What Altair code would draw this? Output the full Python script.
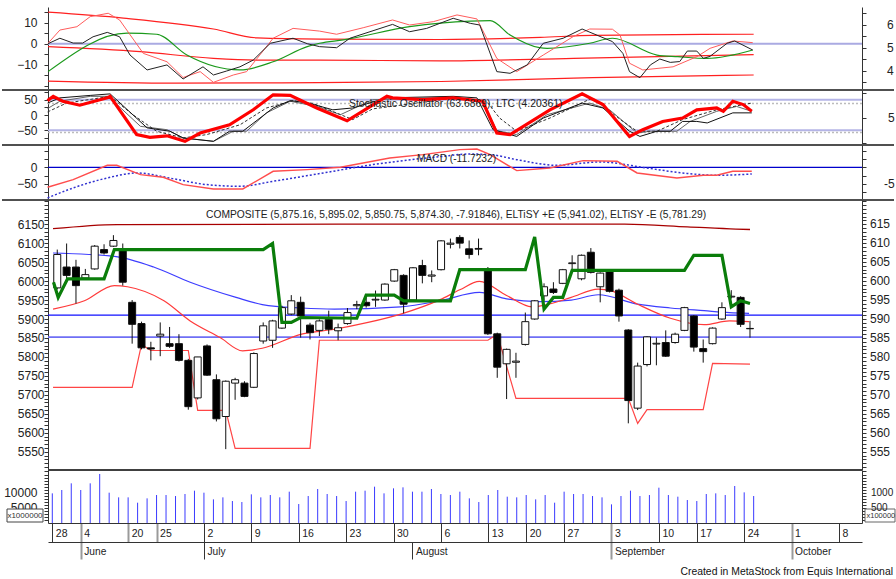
import altair as alt
import pandas as pd

FONT = "Liberation Sans, Arial, sans-serif"

W = 814
H1, H2, H3, H4, H5 = 83, 55, 55, 270, 53
X_DOMAIN = [-0.454, 85.43]

# ---------------- x axis (trading-day index) ----------------
day_tick_idx = [0, 3, 8, 11, 16, 21, 26, 31, 36, 41, 46, 50, 54, 59, 64, 68, 73, 78, 83]
day_tick_lbl = ["28", "4", "20", "25", "2", "9", "16", "23", "30", "6", "13", "20", "27",
                "3", "10", "17", "24", "1", "8"]
grey_tick_idx = [3, 8, 11, 59, 78]
month_idx = [3, 16, 38, 59, 78]
month_lbl = ["June", "July", "August", "September", "October"]

# ---------------- price candles ----------------
c_open = [5982, 6037, 6037, 6008, 6032, 6083, 6092, 6081, 5944, 5888, 5824, 5855, 5835, 5835, 5791,
          5692, 5829, 5740, 5643, 5731, 5731, 5720, 5842, 5844, 5876, 5913, 5944, 5884, 5870, 5899,
          5869, 5888, 5935, 5944, 5950, 5950, 6000, 6015, 5950, 6041, 6013, 6030, 6097, 6115, 6085,
          6084, 6028, 5861, 5782, 5786, 5833, 5900, 5961, 5979, 5994, 6046, 6006, 6076, 5985, 6028,
          5976, 5871, 5665, 5780, 5834, 5838, 5838, 5870, 5908, 5822, 5835, 5900, 5958, 5957, 5875.16]
c_high = [6083, 6099, 6056, 6032, 6095, 6097, 6121, 6099, 5950, 5893, 5840, 5891, 5879, 5860, 5795,
          5800, 5833, 5754, 5738, 5745, 5736, 5812, 5891, 5898, 5935, 5963, 5959, 5890, 5899, 5922,
          5888, 5929, 5948, 5957, 5975, 5994, 6032, 6018, 6037, 6056, 6028, 6108, 6112, 6121, 6107,
          6112, 6037, 5864, 5822, 5811, 5917, 5950, 5994, 5997, 6032, 6068, 6070, 6087, 6023, 6030,
          5980, 5873, 5785, 5855, 5851, 5870, 5864, 5932, 5910, 5846, 5878, 5944, 5976, 5960, 5895.02]
c_low = [5978, 5997, 5941, 6005, 6030, 6070, 6090, 5988, 5835, 5820, 5791, 5802, 5824, 5788, 5661,
         5688, 5750, 5630, 5557, 5687, 5694, 5718, 5835, 5824, 5874, 5910, 5851, 5846, 5855, 5860,
         5844, 5885, 5926, 5930, 5932, 5948, 5998, 5915, 5948, 5994, 5997, 6028, 6086, 6086, 6059,
         6068, 5858, 5745, 5689, 5745, 5830, 5898, 5948, 5966, 5992, 6028, 6002, 6020, 5944, 5970,
         5893, 5625, 5660, 5775, 5778, 5800, 5835, 5868, 5814, 5785, 5833, 5898, 5954, 5879, 5850.75]
c_close = [6070, 6015, 5988, 6017, 6092, 6074, 6107, 5997, 5886, 5824, 5821, 5860, 5828, 5791, 5669,
           5800, 5752, 5637, 5736, 5740, 5696, 5809, 5882, 5895, 5930, 5948, 5908, 5864, 5895, 5873,
           5877, 5917, 5938, 5935, 5952, 5992, 6030, 5939, 6035, 6015, 6016, 6106, 6100, 6100, 6070,
           6086, 5861, 5773, 5820, 5789, 5893, 5948, 5985, 5970, 6030, 6048, 6068, 6023, 6021, 5973,
           5908, 5685, 5776, 5853, 5836, 5802, 5860, 5930, 5826, 5814, 5876, 5930, 5960, 5886, 5874.30]

# ---------------- volume (x1,000,000) ----------------
volume = [9785, 10886, 13088, 10886, 13088, 16171, 10005, 8464, 8464, 6702, 8134, 9234, 9234, 8904,
          9565, 10666, 10005, 7803, 8464, 7253, 6922, 9455, 8464, 9234, 8464, 10336, 6262, 8904, 11216,
          9565, 8904, 7253, 10336, 10666, 11987, 9785, 11437, 11767, 10336, 10336, 11216, 9565, 9234,
          10336, 8134, 6922, 9234, 10886, 8684, 8464, 9234, 7803, 9234, 6702, 10336, 9565, 9565, 8904,
          8464, 6152, 8904, 10666, 8904, 9234, 11657, 9234, 8684, 7583, 7253, 9565, 9785, 9234, 12207,
          10115, 8904]

# ---------------- panel 1 oscillators ----------------
p1_bandA_i = [-0.45, 7.5, 17, 21.6, 28.3, 40.9, 51.5, 57, 74]
p1_bandA_v = [15, 12.2, 7, 2.8, 2.2, 2.0, 3.0, 4.0, 4.5]
p1_bandB_i = [-0.45, 9.3, 17, 21.6, 28.3, 40.9, 55, 74]
p1_bandB_v = [-1.4, -3.8, -7.0, -7.8, -7.8, -8.2, -7.0, -5.2]
p1_bandD_i = [-0.45, 13, 28, 41, 57, 74]
p1_bandD_v = [-17.8, -18.8, -18.5, -18.0, -16.2, -14.9]
p1_pink_i = [-0.45, 0.8, 2.6, 4.0, 5.9, 7.1, 9.6, 12.1, 13.8, 15.6, 17.0, 19.1, 20.5, 23.3, 25.4,
             28.2, 30.0, 32.8, 35.9, 37.7, 40.2, 42.7, 44.8, 46.9, 49.0, 51.8, 55.0, 56.7, 59.1, 59.9,
             60.9, 62.3, 65.5, 68.0, 69.4, 71.8, 73.9]
p1_pink_v = [0.2, 6.5, 8.1, 12.9, 14.5, 11.3, -4.6, -8.6, -16.1, -13.3, -18.4, -14.9, -13.3, 2.6, 7.3,
             6.0, 4.5, 7.6, 11.3, 8.9, 10.5, 13.7, 11.8, -7.0, -13.3, -5.4, 3.5, 7.0, 6.9, 4.1,
             -9.3, -12.5, -11.0, -6.2, -2.2, 1.3, 0.5]
p1_black_i = [-0.45, 0.8, 2.2, 3.2, 4.3, 5.8, 7.1, 8.2, 10.0, 12.1, 13.8, 15.9, 17.0, 18.4, 19.8,
              21.2, 23.0, 25.4, 26.9, 28.2, 30.0, 31.4, 35.9, 37.7, 39.5, 42.3, 44.1, 45.1, 46.9, 48.3,
              50.1, 51.8, 53.9, 55.9, 59.1, 60.2, 60.9, 62.0, 63.1, 64.1, 65.2, 66.2, 67.0, 68.0, 68.7,
              69.4, 71.2, 72.0, 73.9]
p1_black_v = [0, 2.6, 0.3, 0.3, 3.3, 5.4, 3.3, -5.4, -12.5, -10.1, -16.8, -11.0, -14.9, -13.0, -11.0,
              -7.8, 0.2, 2.6, 0, -1.4, -1.9, 2.6, 9.2, 5.7, 7.3, 12.1, 9.7, 8.9, -13.3, -14.1,
              -10.1, 0.2, 2.6, 7.0, 1.0, -4.6, -13.3, -16.2, -10.1, -7.3, -8.9, -8.5, -3.5, -3.5, -7.0,
              -6.0, 0.2, 1.3, -3.0]
p1_green_i = [-0.45, 7.9, 11.0, 14.2, 19.8, 23.3, 26.9, 28.2, 30.7, 37.7, 44.1, 46.2, 48.3, 51.4,
              52.2, 56.7, 59.1, 63.8, 66.0, 69.1, 73.9]
p1_green_v = [-13.3, 5.0, 4.5, -5.4, -12.5, -8.6, -1.4, 0.2, 1.8, 8.1, 10.8, 11.0, 4.1, -1.9,
              -2.2, 0.2, 2.6, -5.4, -6.2, -7.0, -3.0]
p1_levels = [0]

# ---------------- panel 2 stochastic ----------------
p2_red_i = [-0.5, 0.1, 1.1, 2.9, 5.8, 6.1, 8.9, 10.3, 12.1, 14.0, 15.6, 18.7, 21.2, 23.3, 25.1, 27.9,
            31.1, 35.3, 35.9, 39.1, 42.3, 45.4, 46.9, 48.3, 52.5, 55.9, 58.1, 60.9, 62.3, 64.4, 66.5,
            68.0, 70.1, 70.8, 71.8, 72.9, 73.8]
p2_red_v = [47, 61, 45, 32, 56, 61, -64, -73, -68, -86, -59, -32, 17, 66, 64, 23, -19, 61, 56, 50,
            56, 45, -59, -64, 17, 69, 34, -70, -48, -21, -10, 17, 23, 12, 45, 34, 12]
p2_black_i = [-0.5, 0.8, 4.0, 6.1, 10.0, 12.4, 13.8, 17.0, 18.7, 20.1, 23.3, 25.1, 26.9, 29.6, 31.7,
              35.3, 42.3, 44.8, 46.5, 49.0, 51.8, 55.9, 58.1, 60.9, 62.0, 63.8, 65.2, 66.5, 68.0, 69.1,
              71.8, 73.8]
p2_black_v = [39, 56, 64, 69, -42, -53, -75, -86, -53, -53, 23, 47, 40, 17, 23, 56, 61, 56, -48, -70,
              -10, 39, 23, -53, -70, -53, -53, -21, -21, -26, 7, 7]
p2_grey_i = [-0.5, 0.8, 4.0, 5.9, 9.3, 12.1, 13.8, 17.0, 19.1, 20.5, 22.6, 25.1, 27.9, 30.4, 33.8,
             42.3, 45.4, 46.9, 49.0, 52.2, 56.7, 58.8, 61.7, 63.1, 65.9, 67.3, 70.1, 72.2, 73.8]
p2_grey_v = [21, 45, 61, 61, -37, -48, -75, -86, -53, -53, 7, 45, 28, 1, 50, 58, 45, -51, -64, 1,
             39, 17, -59, -53, -53, -21, 12, 28, 12]
p2_dash_i = [-0.5, 1.5, 6.1, 8.5, 11.0, 13.8, 16.3, 19.8, 22.6, 25.4, 27.5, 31.7, 33.8, 42.3, 45.8,
             47.2, 49.0, 52.5, 57.0, 60.2, 61.7, 63.8, 66.5, 70.1, 72.9, 73.8]
p2_dash_v = [10, 39, 61, 1, -53, -75, -64, -32, 23, 47, 38, -15, 20, 55, 45, -10, -53, -10, 56, -21,
             -53, -53, -15, 17, 34, 39]
p2_solid_levels = [50, -50]
p2_dotted_levels = [38, -57]

# ---------------- panel 3 MACD ----------------
p3_macd_i = [-0.5, 2.2, 5.8, 6.8, 9.3, 11.7, 13.8, 17.0, 20.1, 23.3, 26.9, 30.4, 35.6, 39.1, 43.0,
             44.8, 46.2, 49.0, 52.5, 56.0, 59.6, 61.7, 65.9, 68.7, 70.1, 71.8, 73.8]
p3_macd_v = [-60, -37, 6, 6, -22, -30, -52, -65, -65, -12, -7, 0, 28, 38, 53, 55, 38, -10, -2, 20,
             18, -17, -32, -24, -24, -12, -12]
p3_sig_i = [-0.5, 2.2, 5.8, 8.9, 12.7, 16.3, 19.8, 23.3, 28.6, 33.8, 40.9, 44.0, 46.2, 49.0, 53.2,
            57.8, 62.7, 66.5, 70.1, 73.8]
p3_sig_v = [-92, -62, -32, -17, -34, -52, -57, -42, -17, 8, 32, 40, 38, 23, 6, 16, -2, -17, -24, -20]
p3_levels = [0]

# ---------------- panel 4 price overlays ----------------
p4_top_i = [-0.45, 6.4, 30, 60.6, 67.3, 72.5, 74]
p4_top_v = [6138, 6149, 6150, 6150, 6143, 6137, 6136]
p4_green_i = [-0.4, 0.1, 1.1, 5, 6.1, 22, 23, 24, 25, 26, 32, 33, 36, 37, 42, 43, 50, 51, 52, 53, 54,
              55, 67, 68, 71, 72, 73, 74]
p4_green_v = [5997, 5957, 6006, 6006, 6083, 6083, 6099, 5891, 5891, 5904, 5902, 5963, 5963, 5948,
              5948, 6030, 6030, 6116, 5926, 5957, 5957, 6028, 6028, 6068, 6068, 5932, 5948, 5941.02]
p4_step_i = [-0.45, 8, 9, 10, 14, 15, 18, 19, 27, 28, 46, 47, 49, 61, 62, 63, 69, 70, 74]
p4_step_v = [5720, 5720, 5833, 5817, 5817, 5659, 5659, 5559, 5559, 5844, 5844, 5860, 5691, 5691,
             5625, 5661, 5661, 5783, 5781.29]
p4_rma_i = [-0.45, 2.9, 6.1, 7.5, 11.4, 14.2, 17.4, 19.8, 21.9, 26.1, 29.6, 33.2, 36.7, 40.9, 43.0,
            45.1, 48.0, 50.7, 52.5, 54.9, 57.8, 59.1, 62.0, 65.5, 69.1, 71.8, 73.9]
p4_rma_v = [5926, 5948, 5988, 5985, 5948, 5895, 5851, 5816, 5823, 5860, 5873, 5891, 5913, 5951, 5977,
            5999, 5962, 5932, 5939, 5957, 5979, 5975, 5939, 5902, 5885, 5895, 5893]
p4_bma_i = [-0.45, 6.1, 10.3, 14.2, 19.1, 21.9, 26.1, 29.6, 36.7, 40.9, 45.1, 48.0, 51.5, 54.9, 57.8,
            62.0, 65.5, 69.1, 71.8, 73.9]
p4_bma_v = [6074, 6065, 6037, 5997, 5957, 5938, 5929, 5926, 5932, 5948, 5970, 5953, 5946, 5950, 5964,
            5939, 5929, 5922, 5917, 5915]
p4_levels = [5910, 5852]
p4_level_colors = ["#1010ff", "#6f6ff5"]

# ---------------- axis tick values and (window-clipped) right-hand labels ----------------
p1_left_ticks = [-20, -15, -10, -5, 0, 5, 10, 15]
p1_left_labeled = [-10, 0, 10]
p1_right_ticks = [35, 40, 45, 50, 55, 60, 65]
p1_right_lbl_v = [40, 50, 60]
p1_right_lbl_t = ["4", "5", "6"]
p2_left_ticks = [-75, -50, -25, 0, 25, 50, 75]
p2_left_labeled = [-50, 0, 50]
p2_right_ticks = [0, 50, 100]
p2_right_lbl_v = [50]
p2_right_lbl_t = ["5"]
p3_left_ticks = [-75, -50, -25, 0, 25, 50]
p3_left_labeled = [-50, 0]
p3_right_lbl_v = [-50]
p3_right_lbl_t = ["-5"]
p4_ticks = list(range(5510, 6211, 10))
p4_labeled = [5550, 5600, 5650, 5700, 5750, 5800, 5850, 5900, 5950, 6000, 6050, 6100, 6150]
p4_right_lbl_t = ["555", "560", "565", "570", "575", "580", "585", "590", "595", "600", "605",
                  "610", "615"]
p5_ticks = list(range(1000, 17001, 1000))
p5_labeled = [5000, 10000]
p5_right_lbl_t = ["500", "1000"]

# ---------------- texts ----------------
composite_label = ["COMPOSITE (5,875.16, 5,895.02, 5,850.75, 5,874.30, -7.91846), "
                   "ELTiSY +E (5,941.02), ELTiSY -E (5,781.29)"]
stoch_label = ["Stochastic Oscillator (63.6869), LTC (4.20361)"]
macd_label = ["MACD (-11.7232)"]
credit_label = ["Created in MetaStock from Equis International"]
left_unit_label = ["x1000000"]
right_unit_label = ["x100000"]


# ================= helpers =================
def xenc(axis=None):
    return alt.X("i:Q", scale=alt.Scale(domain=X_DOMAIN, nice=False, zero=False), axis=axis, title=None)


def ysc(dom):
    return alt.Scale(domain=dom, nice=False, zero=False)


def arr(vals):
    return "[" + ",".join(str(v) for v in vals) + "]"


def left_axis(values, labeled, pad=7):
    return alt.Axis(orient="left", values=values, format="d",
                    labelExpr=f"indexof({arr(labeled)}, datum.value) >= 0 ? datum.label : ''",
                    tickSize=4, labelPadding=pad, domainColor="#333", tickColor="#333",
                    labelFont=FONT, labelFontSize=12, labelColor="#222", grid=False, title=None,
                    labelOverlap=False, labelBound=False, labelFlush=False)


def right_axis(values):
    return alt.Axis(orient="right", values=values, labels=False, tickSize=4,
                    domainColor="#333", tickColor="#333", grid=False, title=None)


def line(idx, vals, scale, axis, color, width=1.0, dash=None, interp="linear"):
    df = pd.DataFrame({"i": idx, "v": vals})
    kw = dict(color=color, strokeWidth=width, interpolate=interp)
    if dash:
        kw["strokeDash"] = dash
    return alt.Chart(df).mark_line(**kw).encode(x=xenc(), y=alt.Y("v:Q", scale=scale, axis=axis, title=None))


def hlevels(levels, scale, axis, color, width=1.0, dash=None):
    df = pd.DataFrame({"v": levels})
    kw = dict(color=color, strokeWidth=width)
    if dash:
        kw["strokeDash"] = dash
    return alt.Chart(df).mark_rule(**kw).encode(y=alt.Y("v:Q", scale=scale, axis=axis, title=None))


def right_layer(dom, ticks, lbl_v, lbl_t, x_px, size=12):
    df = pd.DataFrame({"v": lbl_v, "t": lbl_t})
    return alt.Chart(df).mark_text(align="left", baseline="middle", font=FONT, fontSize=size,
                                   color="#222").encode(
        x=alt.value(x_px), y=alt.Y("v:Q", scale=ysc(dom), axis=right_axis(ticks), title=None),
        text="t:N")


def separator(h, x0=-46, x1=846, color="#505050", width=2):
    return alt.Chart(pd.DataFrame({"a": [0]})).mark_rule(color=color, strokeWidth=width).encode(
        x=alt.value(x0), x2=alt.value(x1), y=alt.value(h), y2=alt.value(h))


def label_text(txt, x, y, align="left", size=12, color="#222"):
    return alt.Chart(pd.DataFrame({"t": txt})).mark_text(
        align=align, baseline="middle", font=FONT, fontSize=size, color=color).encode(
        x=alt.value(x), y=alt.value(y), text="t:N")


def corner(x, y):
    return alt.Chart(pd.DataFrame({"a": [0]})).mark_rule(color="white", strokeWidth=0.5).encode(
        x=alt.value(x), x2=alt.value(x), y=alt.value(y), y2=alt.value(y))


# ================= panel 1 =================
d1 = [-22.05, 17.48]
s1 = ysc(d1)
a1 = left_axis(p1_left_ticks, p1_left_labeled)
p1_main = alt.layer(
    hlevels(p1_levels, s1, a1, "#aaaae2", 2),
    line(p1_bandA_i, p1_bandA_v, s1, a1, "#ff2020", 1.2, interp="monotone"),
    line(p1_bandB_i, p1_bandB_v, s1, a1, "#ff2020", 1.2, interp="monotone"),
    line(p1_bandD_i, p1_bandD_v, s1, a1, "#ff2020", 1.2, interp="monotone"),
    line(p1_green_i, p1_green_v, s1, a1, "#1c9a1c", 1.2, interp="monotone"),
    line(p1_pink_i, p1_pink_v, s1, a1, "#ff5c5c", 1.0),
    line(p1_black_i, p1_black_v, s1, a1, "#222222", 1.0),
    separator(H1),
    corner(-47.6, -6.6),
)
p1 = alt.layer(
    p1_main,
    right_layer([31.7, 67.8], p1_right_ticks, p1_right_lbl_v, p1_right_lbl_t, 839),
).resolve_scale(y="independent").properties(width=W, height=H1)

# ================= panel 2 =================
d2 = [-98, 81.7]
s2 = ysc(d2)
a2 = left_axis(p2_left_ticks, p2_left_labeled)
p2_main = alt.layer(
    hlevels(p2_solid_levels, s2, a2, "#b4b4e6", 2),
    hlevels(p2_dotted_levels, s2, a2, "#bcbcbc", 1.5, [2, 2]),
    line(p2_grey_i, p2_grey_v, s2, a2, "#666666", 1.0),
    line(p2_dash_i, p2_dash_v, s2, a2, "#333333", 1.0, [3, 2]),
    line(p2_black_i, p2_black_v, s2, a2, "#111111", 1.0),
    line(p2_red_i, p2_red_v, s2, a2, "#ff0000", 3.2),
    label_text(stoch_label, 301, 14, size=10.4),
    separator(H2),
)
p2 = alt.layer(
    p2_main,
    right_layer([-4, 106], p2_right_ticks, p2_right_lbl_v, p2_right_lbl_t, 840),
).resolve_scale(y="independent").properties(width=W, height=H2)

# ================= panel 3 =================
d3 = [-98.2, 67]
s3 = ysc(d3)
a3 = left_axis(p3_left_ticks, p3_left_labeled)
p3_main = alt.layer(
    hlevels(p3_levels, s3, a3, "#0000cc", 1.2),
    line(p3_sig_i, p3_sig_v, s3, a3, "#3030d0", 1.5, [2, 2], interp="monotone"),
    line(p3_macd_i, p3_macd_v, s3, a3, "#ff4d4d", 1.4),
    label_text(macd_label, 369, 14, size=10.2),
    separator(H3),
)
p3 = alt.layer(
    p3_main,
    right_layer(d3, p3_left_ticks, p3_right_lbl_v, p3_right_lbl_t, 836),
).resolve_scale(y="independent").properties(width=W, height=H3)

# ================= panel 4 =================
d4 = [5502, 6213.7]
s4 = ysc(d4)
a4 = left_axis(p4_ticks, p4_labeled, pad=0)
cdf = pd.DataFrame({"i": list(range(len(c_open))), "o": c_open, "h": c_high, "l": c_low, "c": c_close})
wicks = alt.Chart(cdf).mark_rule(color="#111", strokeWidth=1).encode(
    x=xenc(), y=alt.Y("l:Q", scale=s4, axis=a4, title=None), y2="h:Q")
bodies = alt.Chart(cdf).mark_bar(size=7, stroke="#111", strokeWidth=1).encode(
    x=xenc(), y=alt.Y("o:Q", scale=s4, axis=a4, title=None), y2="c:Q",
    fill=alt.condition("datum.c >= datum.o", alt.value("white"), alt.value("black")))
lvl4 = pd.DataFrame({"v": p4_levels, "col": p4_level_colors, "w": [1.2, 1.8]})
levels4 = alt.Chart(lvl4).mark_rule().encode(
    y=alt.Y("v:Q", scale=s4, axis=a4, title=None),
    color=alt.Color("col:N", scale=None, legend=None),
    strokeWidth=alt.StrokeWidth("w:Q", scale=None, legend=None))
p4_main = alt.layer(
    levels4,
    line(p4_top_i, p4_top_v, s4, a4, "#a80000", 1.3, interp="monotone"),
    line(p4_step_i, p4_step_v, s4, a4, "#ff4545", 1.2),
    line(p4_bma_i, p4_bma_v, s4, a4, "#3d3dff", 1.2, interp="monotone"),
    line(p4_rma_i, p4_rma_v, s4, a4, "#ff3a3a", 1.2, interp="monotone"),
    wicks,
    bodies,
    line(p4_green_i, p4_green_v, s4, a4, "#0a7d0a", 3.2),
    label_text(composite_label, 158, 15, size=10.25),
    separator(H4, x0=0, x1=W, color="#404040", width=2),
)
p4 = alt.layer(
    p4_main,
    right_layer(d4, p4_ticks, p4_labeled, p4_right_lbl_t, 822),
).resolve_scale(y="independent").properties(width=W, height=H4)

# ================= panel 5 (volume + date axis) =================
d5 = [0, 17490]
s5 = ysc(d5)
a5 = left_axis(p5_ticks, p5_labeled)
tick_test = f"indexof({arr(grey_tick_idx)}, datum.value) >= 0"
day_axis = alt.Axis(
    values=day_tick_idx,
    labelExpr=f"{arr([repr(s) for s in day_tick_lbl])}[indexof({arr(day_tick_idx)}, datum.value)]",
    tickSize=19, labelPadding=-8.5, labelBaseline="middle", labelAlign="left", labelOffset=3,
    tickColor={"condition": {"test": tick_test, "value": "#9a9a9a"}, "value": "#333333"},
    tickWidth={"condition": {"test": tick_test, "value": 2}, "value": 1},
    domainColor="#333", domainWidth=1.2, labelFont=FONT, labelFontSize=10.5, labelColor="#222",
    grid=False, title=None, labelOverlap=False, labelBound=False, labelFlush=False)
month_test = "indexof([3,59,78], datum.value) >= 0"
month_axis = alt.Axis(
    orient="bottom", offset=19, values=month_idx,
    labelExpr=f"{arr([repr(s) for s in month_lbl])}[indexof({arr(month_idx)}, datum.value)]",
    tickSize=17, labelPadding=-7.3, labelBaseline="middle", labelAlign="left", labelOffset=3,
    tickColor={"condition": {"test": month_test, "value": "#9a9a9a"}, "value": "#333333"},
    tickWidth={"condition": {"test": month_test, "value": 2}, "value": 1},
    domainColor="#333", domainWidth=1.2, labelFont=FONT, labelFontSize=10.2, labelColor="#222",
    grid=False, title=None, labelOverlap=False, labelBound=False, labelFlush=False)

vdf = pd.DataFrame({"i": list(range(len(volume))), "vol": volume})
vol_bars = alt.Chart(vdf).mark_rule(color="#3a3aff", strokeWidth=1).encode(
    x=xenc(day_axis), y=alt.Y("vol:Q", scale=s5, axis=a5, title=None), y2=alt.datum(0))
unit_box_l = alt.Chart(pd.DataFrame({"a": [0]})).mark_rect(fill="white", stroke="#444", strokeWidth=1).encode(
    x=alt.value(-41), x2=alt.value(-5), y=alt.value(39), y2=alt.value(52))
unit_box_r = alt.Chart(pd.DataFrame({"a": [0]})).mark_rect(fill="white", stroke="#666", strokeWidth=1).encode(
    x=alt.value(817), x2=alt.value(847), y=alt.value(39), y2=alt.value(52))
p5_main = alt.layer(
    vol_bars,
    unit_box_l,
    unit_box_r,
    label_text(left_unit_label, -23, 45.5, align="center", size=8, color="#333"),
    label_text(right_unit_label, 818.5, 45.5, size=7.5, color="#333"),
    label_text(credit_label, 845, 102, align="right", size=10.4, color="#111"),
    corner(847.6, 107),
)
month_layer = alt.Chart(pd.DataFrame({"i": month_idx, "v": [0] * len(month_idx)})).mark_point(opacity=0).encode(
    x=xenc(month_axis), y=alt.Y("v:Q", scale=s5, axis=None))
p5 = alt.layer(
    p5_main,
    right_layer(d5, p5_ticks, p5_labeled, p5_right_lbl_t, 823, size=10),
    month_layer,
).resolve_scale(x="independent", y="independent").properties(width=W, height=H5)

chart = alt.vconcat(p1, p2, p3, p4, p5, spacing=0, bounds="flush").resolve_scale(
    x="independent").configure_view(stroke=None).properties(
    padding={"left": 0, "right": 0, "top": 0, "bottom": 0}, background="white",
    autosize=alt.AutoSizeParams(type="pad"))

chart.save("out.html", embed_options={"renderer": "svg", "actions": False})
